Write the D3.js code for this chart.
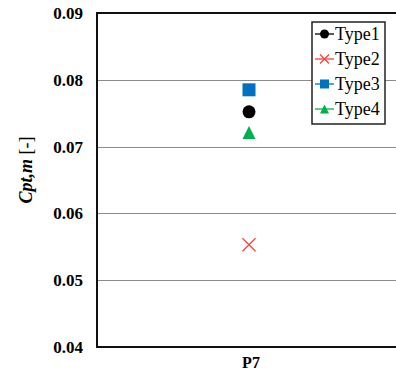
<!DOCTYPE html>
<html>
<head>
<meta charset="utf-8">
<script src="https://cdn.jsdelivr.net/npm/d3@7"></script>
<style>
  html, body { margin: 0; padding: 0; background: #fff; }
  svg { display: block; }
  svg text { font-family: "Liberation Serif", "Times New Roman", serif; }
</style>
</head>
<body>
<svg id="chart" width="396" height="378"></svg>
<script>
// chart data
var categories = ["P7"];
var seriesNames = ["Type1", "Type2", "Type3", "Type4"];
var seriesValues = [[0.0752], [0.0553], [0.0785], [0.0721]];
var yTicks = [0.04, 0.05, 0.06, 0.07, 0.08, 0.09];

var colors = ["#000000", "#ff3b3b", "#0070c0", "#00b050"];
var shapes = ["circle", "cross", "square", "triangle"];

(function () {
var svg = d3.select("#chart"),
    plotLeft = 97, plotRight = 405, plotTop = 13, plotBottom = 347;

var y = d3.scaleLinear().domain([0.04, 0.09]).range([plotBottom, plotTop]);
var x = d3.scaleBand().domain(categories).range([plotLeft, plotRight]);

// gridlines
svg.append("g")
    .selectAll("line")
    .data(yTicks.slice(1, -1))
    .enter().append("line")
    .attr("x1", plotLeft)
    .attr("x2", plotRight)
    .attr("y1", function (d) { return Math.round(y(d)) + 0.5; })
    .attr("y2", function (d) { return Math.round(y(d)) + 0.5; })
    .attr("stroke", "#8c8c8c")
    .attr("stroke-width", 1);

// y axis labels
var yAxis = d3.axisLeft(y).tickValues(yTicks).tickFormat(d3.format(".2f")).tickSize(0).tickPadding(14);
var gy = svg.append("g").attr("transform", "translate(" + plotLeft + ",0)").call(yAxis);
gy.select(".domain").remove();
gy.attr("font-family", null);
gy.selectAll("text")
    .attr("font-size", 17)
    .attr("font-weight", "bold")
    .attr("fill", "#000");

// x axis labels
var xAxis = d3.axisBottom(x).tickSize(0).tickPadding(10);
var gx = svg.append("g").attr("transform", "translate(0," + plotBottom + ")").call(xAxis);
gx.select(".domain").remove();
gx.attr("font-family", null);
gx.selectAll("text")
    .attr("font-size", 16)
    .attr("font-weight", "bold")
    .attr("fill", "#000");

// frame
svg.append("path")
    .attr("d", "M" + plotRight + "," + plotTop + "H" + plotLeft + "V" + plotBottom + "H" + plotRight)
    .attr("fill", "none")
    .attr("stroke", "#111")
    .attr("stroke-width", 2);

// y title
var title = svg.append("text")
    .attr("transform", "translate(32,170) rotate(-90)")
    .attr("text-anchor", "middle")
    .attr("font-size", 18)
    .attr("fill", "#000");
title.append("tspan").attr("font-style", "italic").attr("font-weight", "bold").text("Cpt,m");
title.append("tspan").text(" [-]");

function drawMarker(g, shape, color, size) {
    if (shape === "circle") {
        g.append("circle").attr("r", size / 2).attr("fill", color);
    } else if (shape === "square") {
        g.append("rect").attr("x", -size / 2).attr("y", -size / 2)
            .attr("width", size).attr("height", size).attr("fill", color);
    } else if (shape === "triangle") {
        var h = size / 2;
        g.append("path").attr("d", "M0," + (-h) + "L" + h + "," + h + "L" + (-h) + "," + h + "Z")
            .attr("fill", color);
    } else {
        var c = size / 2;
        g.append("path").attr("d", "M" + (-c) + "," + (-c) + "L" + c + "," + c + "M" + (-c) + "," + c + "L" + c + "," + (-c))
            .attr("stroke", color).attr("stroke-width", 1.2).attr("fill", "none");
    }
}

// points
seriesValues.forEach(function (vals, i) {
    vals.forEach(function (v, j) {
        var g = svg.append("g")
            .attr("transform", "translate(" + (x(categories[j]) + x.bandwidth() / 2 - 2) + "," + y(v) + ")");
        drawMarker(g, shapes[i], colors[i], 13);
    });
});

// legend
var legend = svg.append("g").attr("transform", "translate(312,22)");
legend.append("rect")
    .attr("x", 0).attr("y", 0).attr("width", 73).attr("height", 102)
    .attr("fill", "#fff").attr("stroke", "#222").attr("stroke-width", 1.5);
seriesNames.forEach(function (name, i) {
    var row = legend.append("g").attr("transform", "translate(0," + (12 + i * 25) + ")");
    row.append("line").attr("x1", 3).attr("x2", 22).attr("y1", 0).attr("y2", 0)
        .attr("stroke", colors[i]).attr("stroke-width", 1.3);
    var m = row.append("g").attr("transform", "translate(12.5,0)");
    drawMarker(m, shapes[i], colors[i], 9);
    row.append("text").attr("x", 23).attr("y", 6)
        .attr("font-size", 18)
        .attr("fill", "#000")
        .text(name);
});
})();
</script>
</body>
</html>
